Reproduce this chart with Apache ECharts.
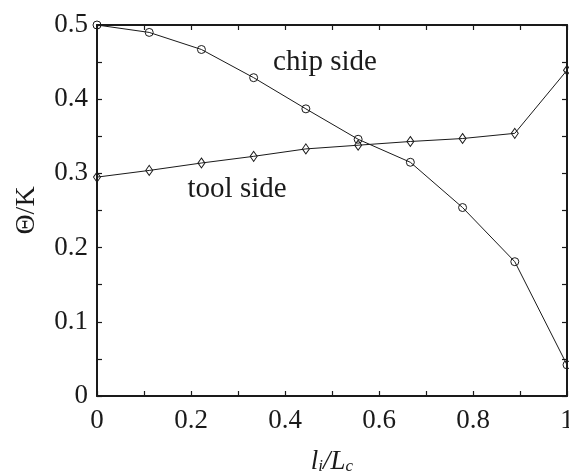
<!DOCTYPE html>
<html>
<head>
<meta charset="utf-8">
<script src="https://cdn.jsdelivr.net/npm/echarts@6/dist/echarts.min.js"></script>
<style>
html,body{margin:0;padding:0;background:#fff;}
#c{width:569px;height:474px;}
</style>
</head>
<body>
<div id="c"></div>
<script>
var positions = [0, 0.1111, 0.2222, 0.3333, 0.4444, 0.5556, 0.6667, 0.7778, 0.8889, 1];
var chipSide = [0.500, 0.490, 0.467, 0.429, 0.387, 0.346, 0.315, 0.254, 0.181, 0.042];
var toolSide = [0.295, 0.304, 0.314, 0.323, 0.333, 0.338, 0.343, 0.347, 0.354, 0.439];
var chipLabel = {text: 'chip side', x: 0.485, y: 0.45};
var toolLabel = {text: 'tool side', x: 0.298, y: 0.279};

var FONT = 'Liberation Serif';
var INK = '#1a1a1a';

function pairs(xs, ys){ return xs.map(function(x,i){ return [x, ys[i]]; }); }
function fmt(v){ return (Math.abs(v) < 1e-9) ? '0' : (Math.abs(v-1) < 1e-9 ? '1' : String(+v.toFixed(2))); }

var tick = {show: true, inside: true, length: 5, lineStyle: {color: INK, width: 1.2}};
var minor = {show: true, splitNumber: 2, length: 5, lineStyle: {color: INK, width: 1.2}};
var aline = {show: true, onZero: false, lineStyle: {color: INK, width: 2}};

function textMark(lbl){
  return {
    silent: true,
    symbol: 'circle', symbolSize: 0,
    label: {show: true, position: 'inside', formatter: lbl.text, fontFamily: FONT, fontSize: 29, color: INK},
    data: [{coord: [lbl.x, lbl.y]}]
  };
}

var chart = echarts.init(document.getElementById('c'), null, {renderer: 'canvas'});
chart.setOption({
  animation: false,
  backgroundColor: '#fff',
  grid: {left: 97, right: 2, top: 25, bottom: 78, containLabel: false, outerBoundsMode: 'none'},
  xAxis: [{
    type: 'value', min: 0, max: 1, interval: 0.2, position: 'bottom',
    axisLine: aline, axisTick: tick, minorTick: minor, splitLine: {show: false},
    axisLabel: {formatter: fmt, fontFamily: FONT, fontSize: 27, color: INK, margin: 11},
    name: '{it|l}{sub|i}{it|/L}{sub|c}', nameLocation: 'middle', nameGap: 52,
    nameTextStyle: {rich: {
      it: {fontFamily: FONT, fontStyle: 'italic', fontSize: 27, color: INK},
      sub: {fontFamily: FONT, fontStyle: 'italic', fontSize: 17, color: INK, verticalAlign: 'bottom', padding: [8,0,0,0]}
    }}
  }, {
    type: 'value', min: 0, max: 1, interval: 0.2, position: 'top',
    axisLine: aline, axisTick: tick, minorTick: minor, splitLine: {show: false},
    axisLabel: {show: false}
  }],
  yAxis: [{
    type: 'value', min: 0, max: 0.5, interval: 0.1, position: 'left',
    axisLine: aline, axisTick: tick, minorTick: minor, splitLine: {show: false},
    axisLabel: {formatter: fmt, fontFamily: FONT, fontSize: 27, color: INK, margin: 9},
    name: 'Θ/K', nameLocation: 'middle', nameGap: 56, nameRotate: 90,
    nameTextStyle: {fontFamily: FONT, fontSize: 28, color: INK}
  }, {
    type: 'value', min: 0, max: 0.5, interval: 0.1, position: 'right',
    axisLine: aline, axisTick: tick, minorTick: minor, splitLine: {show: false},
    axisLabel: {show: false}
  }],
  series: [{
    type: 'line', name: 'chip side', data: pairs(positions, chipSide),
    symbol: 'circle', symbolSize: 8, showSymbol: true, clip: false,
    lineStyle: {color: INK, width: 1},
    itemStyle: {color: 'rgba(255,255,255,0)', borderColor: INK, borderWidth: 1},
    markPoint: textMark(chipLabel)
  }, {
    type: 'line', name: 'tool side', data: pairs(positions, toolSide),
    symbol: 'diamond', symbolSize: [7, 10], showSymbol: true, clip: false,
    lineStyle: {color: INK, width: 1},
    itemStyle: {color: 'rgba(255,255,255,0)', borderColor: INK, borderWidth: 1},
    markPoint: textMark(toolLabel)
  }]
});
</script>
</body>
</html>
